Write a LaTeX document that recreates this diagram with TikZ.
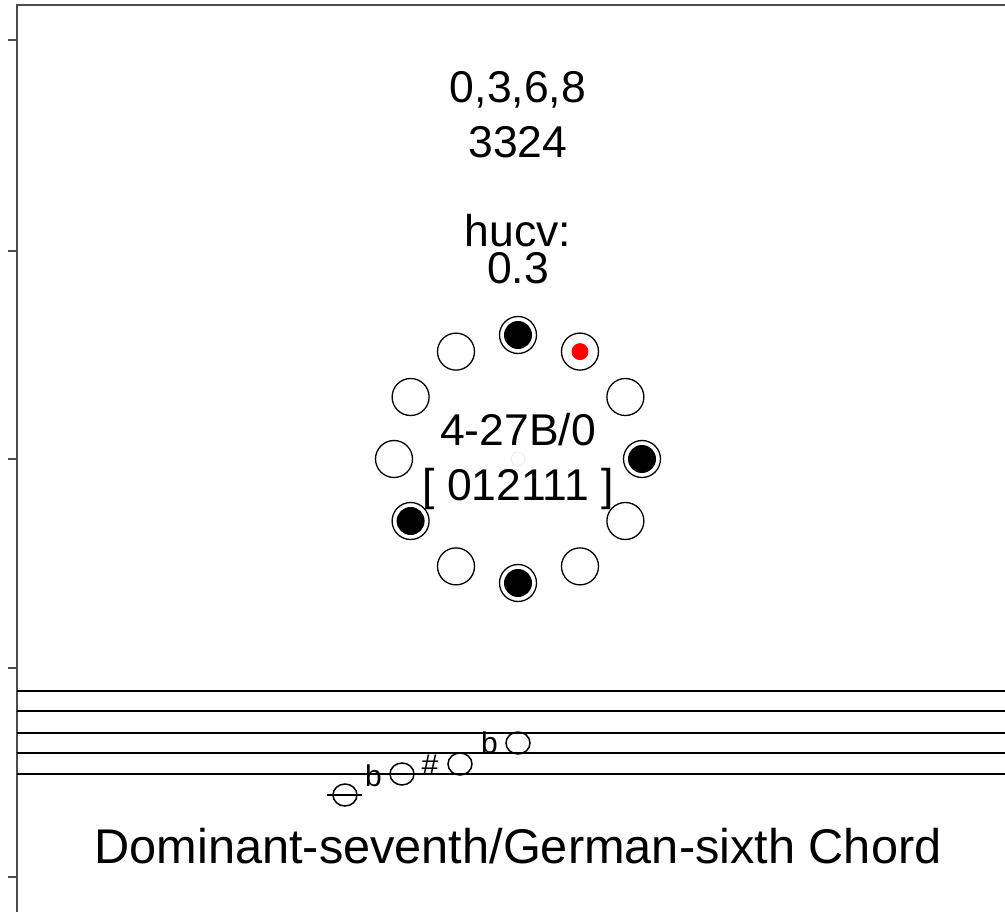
\documentclass[tikz,border=0pt]{standalone}
\usepackage{fontspec}
\setmainfont{Liberation Sans}
\usetikzlibrary{shapes.geometric}
\begin{document}
\begin{tikzpicture}[x=1pt,y=-1pt,
  frame/.style={line width=1.6pt, black!70},
  staffline/.style={line width=1.3pt},
  pc/.style={circle, draw, line width=1.3pt, minimum size=37pt, inner sep=0pt},
  lbl/.style={anchor=base, inner sep=0pt, font=\fontsize{44.5}{50}\selectfont},
  ttl/.style={anchor=base, inner sep=0pt, font=\fontsize{48.7}{55}\selectfont},
  acc/.style={anchor=base, inner sep=0pt, font=\fontsize{30}{34}\selectfont},
  notehead/.style={ellipse, draw, line width=1.5pt, minimum width=24pt, minimum height=22pt, inner sep=0pt}
]
\useasboundingbox (0,0) rectangle (1005,912);
% frame
\coordinate (tl) at (17,5);
\coordinate (tr) at (1005,5);
\coordinate (bl) at (17,912);
\draw[frame] (tr) -- (tl) -- (bl);
\foreach \ty [count=\i] in {40,251,459,668,877} {
  \coordinate (ta\i) at (8,\ty);
  \coordinate (tb\i) at (17,\ty);
  \draw[frame] (ta\i) -- (tb\i);
}
% texts
\node[lbl] (pcs) at (518,103) {0,3,6,8};
\node[lbl] (ivs) at (518,158) {3324};
\node[lbl] (hucv) at (518,247) {hucv:};
\node[lbl] (hval) at (518,284) {0.3};
\node[lbl] (fname) at (518,445) {4-27B/0};
\node[lbl] (ivec) at (518,500) {[ 012111 ]};
\node[ttl] (title) at (518,863) {Dominant-seventh/German-sixth Chord};
% center marker
\node[circle, draw=black!7, line width=1pt, minimum size=14pt, inner sep=0pt] (ctr) at (518,459) {};
% pitch-class clock
\foreach \k in {0,...,11} {
  \node[pc] (p\k) at ({518+124*sin(30*\k)},{459-124*cos(30*\k)}) {};
}
\foreach \k in {0,3,6,8} {
  \fill (p\k) circle (14);
}
\fill[red] (p1) circle (8.5);
% staff
\foreach \sy [count=\i] in {691,711,733,753,774} {
  \coordinate (sa\i) at (17,\sy);
  \coordinate (sb\i) at (1005,\sy);
  \draw[staffline] (sa\i) -- (sb\i);
}
% notes
\coordinate (la) at (327,795);
\coordinate (lb) at (362,795);
\draw[staffline] (la) -- (lb);
\node[notehead] (n1) at (345,795) {};
\node[notehead] (n2) at (402,774) {};
\node[notehead] (n3) at (460,764) {};
\node[notehead] (n4) at (518,743) {};
\node[acc] (a2) at (373.5,786) {b};
\node[acc] (a3) at (430,775) {\#};
\node[acc] (a4) at (489.5,753) {b};
\end{tikzpicture}
\end{document}
